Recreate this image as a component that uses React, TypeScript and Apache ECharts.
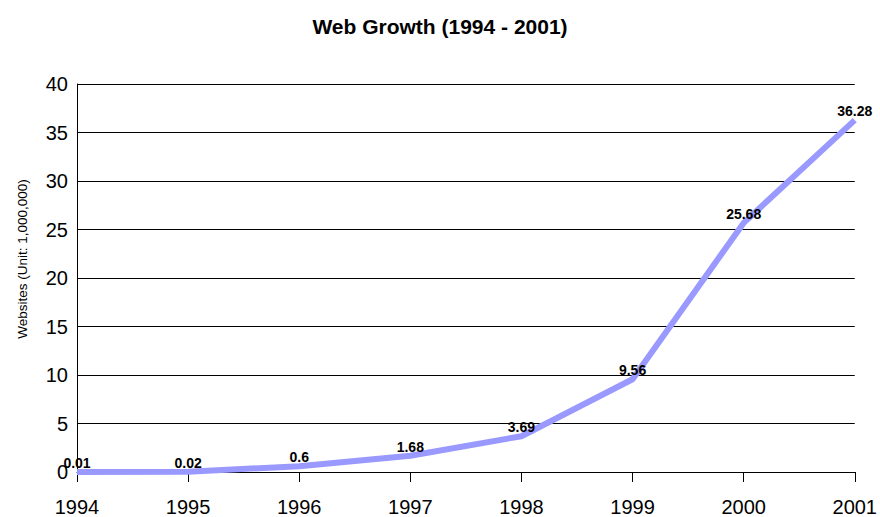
import React, { useEffect, useRef } from "react";
import * as echarts from "echarts";

const years = ["1994", "1995", "1996", "1997", "1998", "1999", "2000", "2001"];
const websites = [0.01, 0.02, 0.6, 1.68, 3.69, 9.56, 25.68, 36.28];

export default function App() {
  const ref = useRef<HTMLDivElement>(null);
  useEffect(() => {
    if (!ref.current) return;
    const chart = echarts.init(ref.current, null, { renderer: "svg" });
    const font = "'Liberation Sans', Arial, sans-serif";
    chart.setOption({
      animation: false,
      backgroundColor: "#ffffff",
      textStyle: { fontFamily: font },
      title: {
        text: "Web Growth (1994 - 2001)",
        left: "center",
        top: 11,
        textStyle: { fontFamily: font, fontSize: 21, fontWeight: "bold", color: "#000" },
      },
      grid: { left: 77, top: 84, width: 779, height: 389, containLabel: false },
      xAxis: {
        type: "category",
        data: years,
        boundaryGap: false,
        axisLine: { lineStyle: { color: "#000", width: 1 } },
        axisTick: { show: true, length: 10, lineStyle: { color: "#000" } },
        axisLabel: { color: "#000", fontSize: 20, margin: 25, fontFamily: font },
        splitLine: { show: false },
      },
      yAxis: {
        type: "value",
        min: 0,
        max: 40,
        interval: 5,
        name: "Websites (Unit: 1,000,000)",
        nameLocation: "middle",
        nameGap: 48,
        nameTextStyle: { color: "#000", fontSize: 13.5, fontFamily: font, padding: [0, 0, 0, 38] },
        axisLine: { show: true, lineStyle: { color: "#000", width: 1 } },
        axisTick: { show: false },
        axisLabel: { color: "#000", fontSize: 20, margin: 9, fontFamily: font },
        splitLine: { show: true, lineStyle: { color: "#000", width: 1 } },
      },
      series: [
        {
          type: "line",
          data: websites,
          symbol: "circle",
          symbolSize: 0,
          showSymbol: true,
          lineStyle: { color: "#9999ff", width: 6 },
          itemStyle: { color: "#9999ff" },
          label: {
            show: true,
            position: "top",
            distance: 2,
            color: "#000",
            fontSize: 14,
            fontWeight: "bold",
            fontFamily: font,
          },
        },
      ],
    });
    return () => chart.dispose();
  }, []);
  return (
    <div
      ref={ref}
      style={{ position: "fixed", left: 0, top: 0, width: 880, height: 517 }}
    />
  );
}
